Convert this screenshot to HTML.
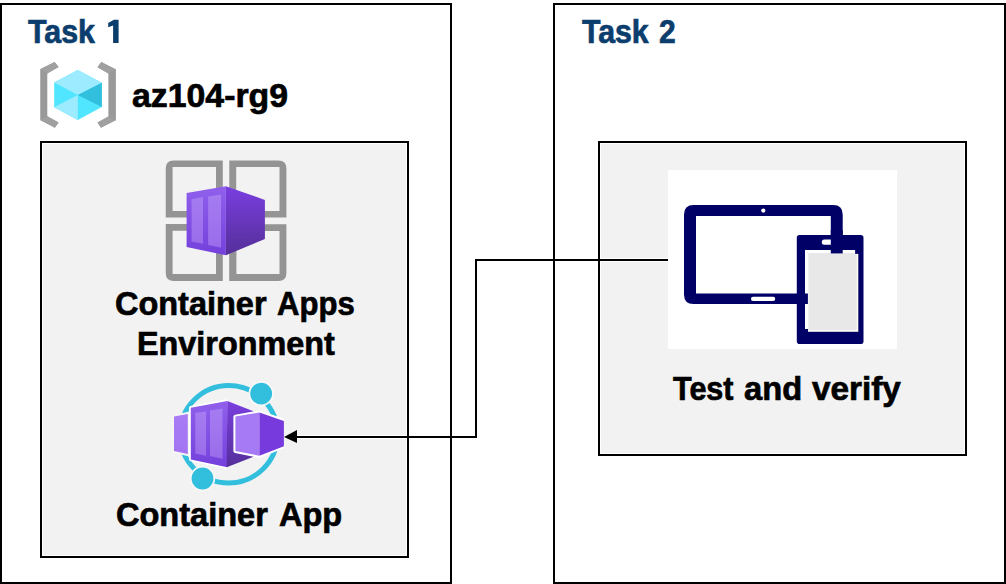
<!DOCTYPE html>
<html><head><meta charset="utf-8">
<style>
html,body{margin:0;padding:0;background:#fff;}
body{width:1006px;height:584px;position:relative;overflow:hidden;font-family:"Liberation Sans",sans-serif;}
.box{position:absolute;box-sizing:border-box;border:2px solid #000;}
.inner{background:#f2f2f2;box-shadow:inset 0 0 0 1px #fff;}
.t{position:absolute;font-weight:bold;white-space:nowrap;line-height:1;transform-origin:0 0;color:#000;-webkit-text-stroke:0.7px currentColor;}
.blue{color:#0b3d6d;}
svg{position:absolute;left:0;top:0;}
</style></head>
<body>
<div class="box" style="left:0;top:3px;width:452px;height:581px;"></div>
<div class="box" style="left:553px;top:3px;width:453px;height:581px;"></div>
<div class="box inner" style="left:40px;top:141px;width:369px;height:417px;"></div>
<div class="box inner" style="left:598px;top:141px;width:369px;height:315px;"></div>

<div class="t blue" id="t1" style="left:28.2px;top:14.55px;font-size:33.6px;transform:scaleX(0.904)">Task</div>
<svg id="t1b" width="1006" height="584" viewBox="0 0 1006 584"><path fill="#0b3d6d" d="M113.9 19.7 H118.6 V43.1 H113.1 V25.6 L108.2 27.3 V23.0 Z"/></svg>
<div class="t blue" id="t2" style="left:582px;top:14.6px;font-size:33.6px;transform:scaleX(0.90)">Task</div>
<div class="t blue" id="t2b" style="left:659.1px;top:14.6px;font-size:33.6px;transform:scaleX(0.894)">2</div>
<div class="t" id="t3" style="left:132px;top:78.85px;font-size:33.6px;transform:scaleX(1.007)">az104-rg9</div>
<div class="t" id="t4" style="left:115.23px;top:287.35px;font-size:33.6px;transform:scaleX(0.967)">Container</div>
<div class="t" id="t4b" style="left:277.3px;top:287.35px;font-size:33.6px;transform:scaleX(0.925)">Apps</div>
<div class="t" id="t5" style="left:136.87px;top:327.35px;font-size:33.6px;transform:scaleX(0.964)">Environment</div>
<div class="t" id="t6" style="left:115.93px;top:497.55px;font-size:33.6px;transform:scaleX(0.969)">Container</div>
<div class="t" id="t6b" style="left:278.5px;top:497.55px;font-size:33.6px;transform:scaleX(0.969)">App</div>
<div class="t" id="t7" style="left:673.3px;top:371.55px;font-size:33.6px;transform:scaleX(0.909)">Test</div>
<div class="t" id="t7b" style="left:743.93px;top:371.55px;font-size:33.6px;transform:scaleX(0.974)">and</div>
<div class="t" id="t7c" style="left:812.4px;top:371.55px;font-size:33.6px;transform:scaleX(0.992)">verify</div>

<svg width="1006" height="584" viewBox="0 0 1006 584">



  <!-- resource group icon -->
  <g id="rg">
    <path fill="#999999" d="M40.25 68.96 L54.5 62 L58.6 66.9 L47.3 73.4 V116.2 L58.6 122.4 L54.8 127.8 L40.25 120.3 Z"/>
    <path fill="#a0a0a0" d="M41.5 69.5 L54.5 62 L58.6 66.9 L47.3 73.4 Z M41.5 119.7 L47.3 116.2 L58.6 122.4 L54.8 127.8 Z"/>
    <path fill="#999999" d="M115.9 69.3 L101.3 62.1 L97.5 67.2 L108.4 73.4 V116.5 L97.5 122.4 L101 127.8 L115.9 120.3 Z"/>
    <path fill="#a0a0a0" d="M114.6 69.8 L101.3 62.1 L97.5 67.2 L108.4 73.4 Z M114.6 119.7 L108.4 116.5 L97.5 122.4 L101 127.8 Z"/>
    <path fill="#50e6ff" d="M77.8 70 L101.8 82.8 V106.9 L77.8 120.1 L54.2 107.2 V82.5 Z"/>
    <path fill="#9cebff" d="M77.8 70 L101.8 82.8 L77.8 95.1 L54.2 82.5 Z"/>
    <path fill="#32bedd" d="M101.8 82.8 L77.8 95.1 L101.8 106.9 Z"/>
    <path fill="#9cebff" d="M77.8 95.1 L77.8 120.1 L54.2 107.2 Z"/>
  </g>

  <!-- container apps environment icon -->
  <defs>
    <linearGradient id="sideG" x1="0" y1="0" x2="0" y2="1">
      <stop offset="0" stop-color="#7a3ee0"/>
      <stop offset="1" stop-color="#552f99"/>
    </linearGradient>
    <linearGradient id="frontG" x1="0" y1="0" x2="0" y2="1">
      <stop offset="0" stop-color="#9060ec"/>
      <stop offset="1" stop-color="#7440dc"/>
    </linearGradient>
    <linearGradient id="stripeG" x1="0" y1="0" x2="0" y2="1">
      <stop offset="0" stop-color="#a57cf2"/>
      <stop offset="1" stop-color="#9a6cea"/>
    </linearGradient>
    <linearGradient id="lightG" x1="0" y1="0" x2="0" y2="1">
      <stop offset="0" stop-color="#a77cf4"/>
      <stop offset="1" stop-color="#a274f2"/>
    </linearGradient>
  </defs>
  <g id="env" fill="#949494" fill-rule="evenodd">
    <path d="M173.75 160.4 H222.8 V217.6 H165.75 V168.4 Q165.75 160.4 173.75 160.4 Z M172.6 167 V211.1 H216 V167 Z"/>
    <path d="M229.3 160.4 H278.4 Q286.4 160.4 286.4 168.4 V217.6 H229.3 Z M236.2 167 V211.1 H279.5 V167 Z"/>
    <path d="M165.75 224.1 H222.8 V280.9 H173.75 Q165.75 280.9 165.75 272.9 Z M172.6 230.7 V274 H216 V230.7 Z"/>
    <path d="M229.2 224.2 H286.4 V272.9 Q286.4 280.9 278.4 280.9 H229.2 Z M236.4 231 V273.9 H279.5 V231 Z"/>
  </g>
  <g id="envbox">
    <path fill="url(#frontG)" d="M186.6 193 L225.9 186.2 V255.3 L186.6 247.1 Z"/>
    <path fill="url(#sideG)" d="M225.9 186.2 L264.9 199.9 V238.9 L225.9 255.3 Z"/>
    <path fill="url(#stripeG)" d="M191.6 199.2 L203 197.1 V243.7 L191.6 241.6 Z"/>
    <path fill="url(#stripeG)" d="M208.1 196.4 L221.1 194.4 V247.4 L208.1 245.1 Z"/>
  </g>

  <!-- container app icon -->
  <g id="capp">
    <circle cx="228.8" cy="434.25" r="48.75" fill="none" stroke="#32bedd" stroke-width="5"/>
    <circle cx="261.15" cy="393.6" r="10.9" fill="#32bedd" stroke="#f8f8f8" stroke-width="3.5" paint-order="stroke"/>
    <circle cx="202.5" cy="478.5" r="10.9" fill="#32bedd" stroke="#f8f8f8" stroke-width="3.5" paint-order="stroke"/>
    <path fill="#f4f4f4" stroke="#f4f4f4" stroke-width="4" stroke-linejoin="round" d="M174 416.6 L187.8 414 V454 L174 451 Z"/>
    <path fill="url(#lightG)" d="M174 416.6 L187.8 414 V454 L174 451 Z"/>
    <path fill="#fff" stroke="#fff" stroke-width="3.5" stroke-linejoin="round" d="M227.3 401 L190.8 407.7 V459.4 L226.7 467.2"/>
    <path fill="url(#frontG)" d="M190.8 407.7 L227.3 401 V467.2 L190.8 459.4 Z"/>
    <path fill="url(#sideG)" d="M227.3 401 L253.5 411.2 V456.8 L226.7 467.2 Z"/>
    <path fill="url(#stripeG)" d="M195.3 412.8 L206.1 411.6 V455.8 L195.3 453.4 Z"/>
    <path fill="url(#stripeG)" d="M210 410.4 L222.5 408.6 V458.8 L210 456.1 Z"/>
    <path fill="#fff" stroke="#fff" stroke-width="4" stroke-linejoin="round" d="M283.9 420.9 L259.4 412.5 L235.4 416.6 V451 L259.4 455.8 L283.9 446.2"/>
    <path fill="#a67af4" d="M235.4 416.6 L259.4 412.5 V455.8 L235.4 451 Z"/>
    <path fill="#773adc" d="M259.4 412.5 L283.9 420.9 V446.2 L259.4 455.8 Z"/>
  </g>

  <!-- device picture -->
  <rect x="668" y="170" width="229" height="179" fill="#fff"/>
  <g id="device">
    <path fill="#000066" fill-rule="evenodd" d="M693.5 205 H833.2 Q842.7 205 842.7 214.5 V294.5 Q842.7 304 833.2 304 H693.5 Q684 304 684 294.5 V214.5 Q684 205 693.5 205 Z M696 216 V293.5 H830.8 V216 Z"/>
    <circle cx="763.3" cy="210.6" r="2.1" fill="#fff"/>
    <rect x="751" y="296.7" width="24.2" height="4.3" rx="2.1" fill="#fff"/>
    <rect x="796.8" y="235" width="66.7" height="109" rx="2.8" fill="#000066"/>
    <rect x="805" y="250" width="3.2" height="79" fill="#fff"/>
    <rect x="805" y="250" width="50.1" height="3.9" fill="#fff"/>
    <rect x="808" y="253.9" width="50.3" height="77.9" fill="#fafaf0"/>
    <rect x="808.3" y="253.9" width="48.4" height="76.1" fill="#e8e8e8"/>
    <rect x="821.8" y="239.6" width="14" height="5.1" rx="2.5" fill="#fff"/>
    <rect x="830.8" y="230" width="11.9" height="23.4" fill="#000066"/>
    <rect x="796.8" y="293.5" width="11.1" height="10.5" fill="#000066"/>
  </g>
  <!-- connector -->
  <path d="M668 260 H600 M407 437 H296" fill="none" stroke="#fff" stroke-width="4"/>
  <path d="M668 260 H476 V437 H296" fill="none" stroke="#000" stroke-width="2"/>
  <path d="M284 437 L297 430 L297 443 Z" fill="#000"/>
</svg>
</body></html>
